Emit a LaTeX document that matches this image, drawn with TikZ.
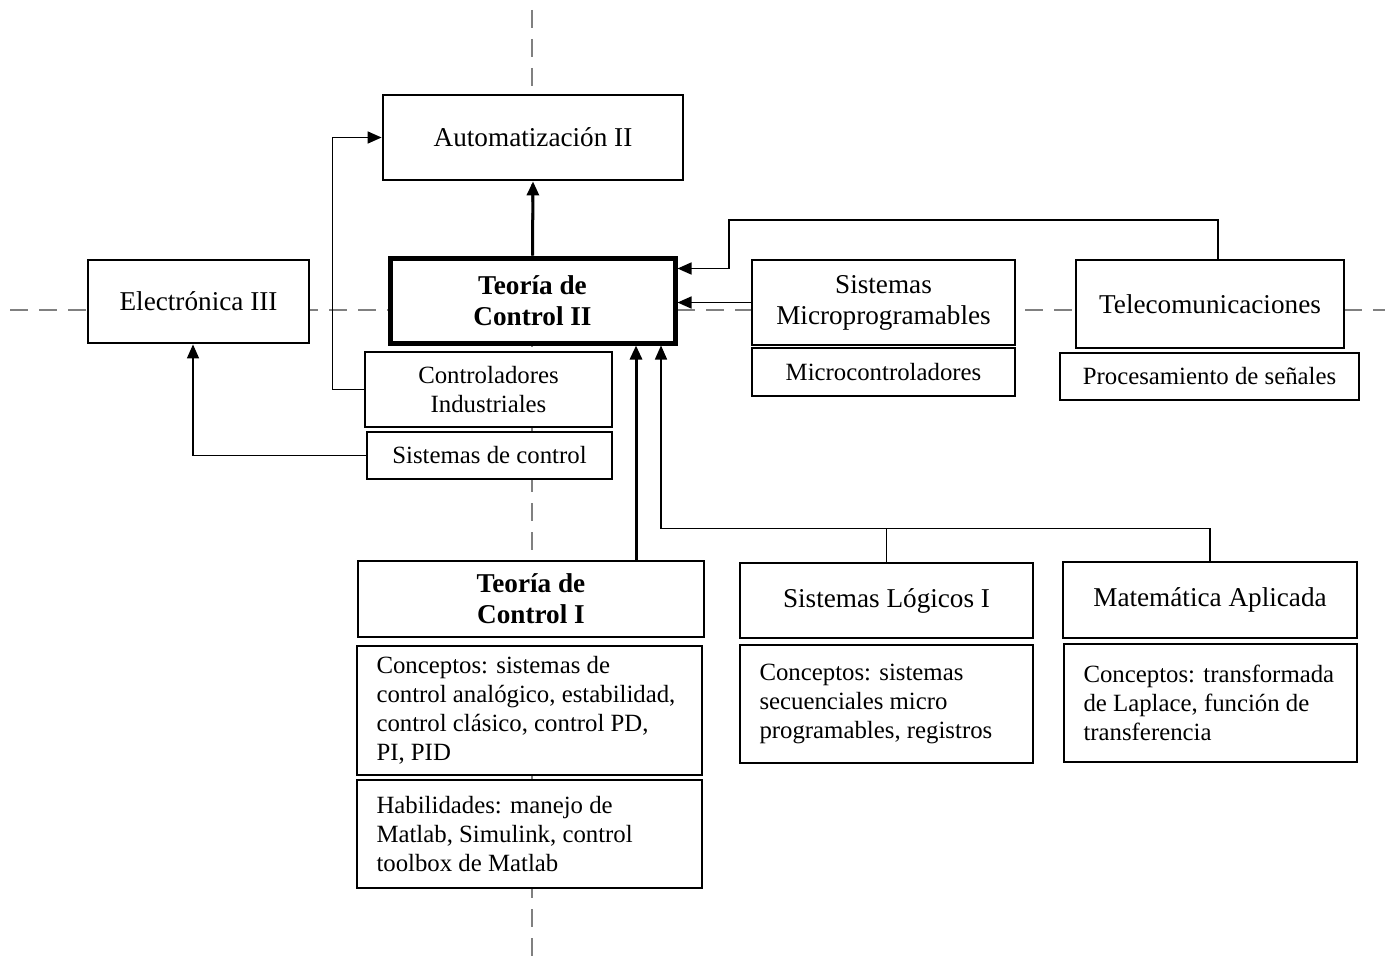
\documentclass[tikz,border=0pt]{standalone}
\usepackage{fontspec}
\setmainfont{Liberation Serif}
\usetikzlibrary{arrows.meta}

\tikzset{
  hdr/.style={draw, fill=white, line width=1.4pt, align=center, inner sep=2pt,
    font=\fontsize{13.6}{15.5}\selectfont},
  hdrmain/.style={hdr, line width=2.5pt, font=\fontsize{13.6}{15.5}\selectfont\bfseries},
  sub/.style={draw, fill=white, line width=0.7pt, align=center, inner sep=2pt,
    font=\fontsize{12.4}{14.5}\selectfont},
  info/.style={sub, align=flush left, inner xsep=9.75pt, text width=#1},
  guide/.style={draw=gray, line width=1.4pt, dash pattern=on 9pt off 5.5pt},
  conn/.style={line width=0.75pt, -{Triangle[length=7pt,width=6pt]}},
  mainconn/.style={line width=1.5pt, -{Triangle[length=7pt,width=6pt]}},
}

\begin{document}
\begin{tikzpicture}[x=0.5pt, y=-0.5pt]
  \useasboundingbox (0,0) rectangle (1390,963);
  % --- ejes punteados ---
  \draw[guide] (532,10) -- (532,963);
  \draw[guide] (10,310) -- (1385,310);

  % --- fila superior ---
  \node[hdr, minimum width=150pt, minimum height=42.5pt] (aut) at (533,137.5) {Automatización II};

  % --- fila central ---
  \node[hdrmain, minimum width=142.5pt, minimum height=42.5pt] (tc2) at (532.5,300.5) {Teoría de\\Control II};
  \node[hdr, minimum width=110.5pt, minimum height=41.5pt] (ele) at (198.5,301.5) {Electrónica III};
  \node[hdr, minimum width=131.5pt, minimum height=42.5pt] (smp) at (883.5,302.5) {Sistemas\\Microprogramables};
  \node[hdr, minimum width=134pt, minimum height=44pt] (tel) at (1210,304) {Telecomunicaciones};
  \node[sub, minimum width=131.5pt, minimum height=24pt] (mic) at (883.5,372) {Microcontroladores};
  \node[sub, minimum width=149.5pt, minimum height=23.5pt] (pds) at (1209.5,376.5) {Procesamiento de señales};
  \node[sub, minimum width=123.5pt, minimum height=37.5pt] (cind) at (488.5,389.5) {Controladores\\Industriales};
  \node[sub, minimum width=122.5pt, minimum height=23.5pt] (scon) at (489.5,455.5) {Sistemas de control};

  % --- fila inferior ---
  \node[hdr, font=\fontsize{13.6}{15.5}\selectfont\bfseries, minimum width=173pt, minimum height=38pt] (tc1) at (531,599) {Teoría de\\Control I};
  \node[info=153pt, minimum height=64.5pt] (ctc1) at (529.5,710.5)
    {Conceptos: sistemas de\\control analógico, estabilidad,\\control clásico, control PD,\\PI, PID};
  \node[info=153pt, minimum height=54pt] (hab) at (529.5,834)
    {Habilidades: manejo de\\Matlab, Simulink, control\\toolbox de Matlab};
  \node[hdr, minimum width=146.5pt, minimum height=37.5pt] (sl) at (886.5,600.5) {Sistemas Lógicos I};
  \node[info=127pt, minimum height=59pt] (csl) at (886.5,704)
    {Conceptos: sistemas\\secuenciales micro\\programables, registros};
  \node[hdr, minimum width=147pt, minimum height=38pt] (ma) at (1210,600) {Matemática Aplicada};
  \node[info=127pt, minimum height=59pt] (cma) at (1210.5,703)
    {Conceptos: transformada\\de Laplace, función de\\transferencia};

  % --- conexiones ---
  \draw[mainconn] (tc2.north) -- (aut.south);
  \draw[conn] (cind.west) -- ++(-16pt,0) |- (aut.west);
  \draw[conn] (scon.west) -| ([xshift=-2.75pt]ele.south);
  \draw[mainconn] ([xshift=52.5pt]tc1.north) -- ([xshift=52.5pt]tc1.north |- tc2.south);
  \draw[conn] (ma.north) -- ++(0,16pt) -| ([xshift=64.25pt]tc2.south);
  \draw[line width=0.75pt] (sl.north) -- ++(0,16.5pt);
  \draw[conn] (smp.west) -- (smp.west -| tc2.east);
  \coordinate (telbend) at (729,220);
  \draw[conn] ([xshift=4pt]tel.north) |- (telbend) |- ([yshift=-6.5pt]tc2.north east);
\end{tikzpicture}
\end{document}
